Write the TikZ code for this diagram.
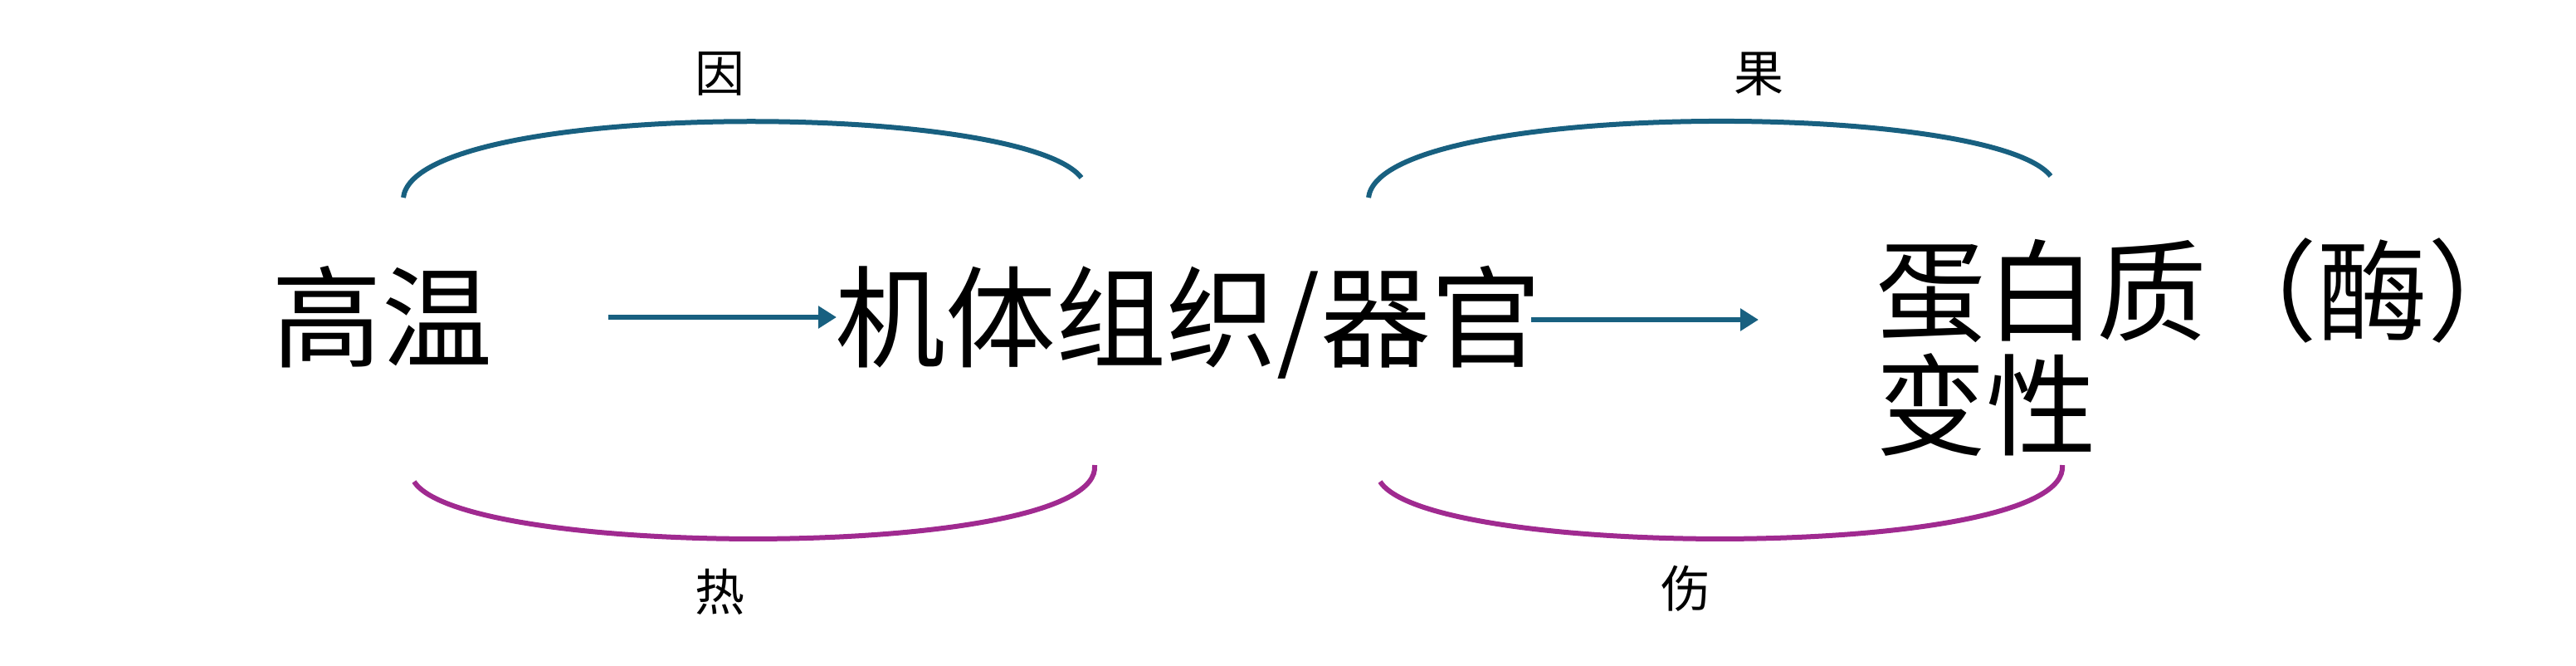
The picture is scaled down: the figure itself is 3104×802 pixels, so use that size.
\documentclass[tikz,border=0pt]{standalone}
\usepackage{fontspec}
\setmainfont{Noto Sans CJK SC}
\usetikzlibrary{arrows.meta}
\definecolor{arcblue}{RGB}{24,96,128}
\definecolor{arcpurple}{RGB}{160,42,144}
\tikzset{
  bigtext/.style={inner sep=0pt, font=\fontsize{133}{138}\selectfont},
  smalltext/.style={inner sep=0pt, font=\fontsize{60}{60}\selectfont},
  toparc/.style={draw=arcblue, line width=6pt},
  botarc/.style={draw=arcpurple, line width=6pt},
  flow/.style={draw=arcblue, line width=6pt, -{Triangle[length=22pt,width=26pt]}},
}
\begin{document}
\begin{tikzpicture}[x=1pt,y=-1pt]
\useasboundingbox (0,0) rectangle (3104,802);
% texts
\node[bigtext] (gw) at (460,382) {高温};
\node[bigtext] (jt) at (1432,388) {机体组织/器官};
\node[bigtext, anchor=west, align=left] (db) at (2260,418) {蛋白质（酶）\\变性};
\node[smalltext] (yin) at (867,89) {因};
\node[smalltext] (guo) at (2119,89) {果};
\node[smalltext] (re) at (867,713) {热};
\node[smalltext] (shang) at (2031,709) {伤};
% arrow end points
\coordinate (a1s) at (733,382);
\coordinate (a1e) at (1008,382);
\coordinate (a2s) at (1845,385);
\coordinate (a2e) at (2119,385);
\draw[flow] (a1s) -- (a1e);
\draw[flow] (a2s) -- (a2e);
% arcs
\coordinate (ul1) at (486,238); \coordinate (ul2) at (1303,214);
\coordinate (ur1) at (1649,238); \coordinate (ur2) at (2471,212);
\coordinate (ll1) at (499,580); \coordinate (ll2) at (1319,560);
\coordinate (lr1) at (1663,580); \coordinate (lr2) at (2485,560);
\draw[toparc] (ul1) .. controls (500,120) and (1230,120) .. (ul2);
\draw[toparc] (ur1) .. controls (1663,120) and (2398,120) .. (ur2);
\draw[botarc] (ll1) .. controls (560,675) and (1330,675) .. (ll2);
\draw[botarc] (lr1) .. controls (1724,675) and (2496,675) .. (lr2);
\end{tikzpicture}
\end{document}
